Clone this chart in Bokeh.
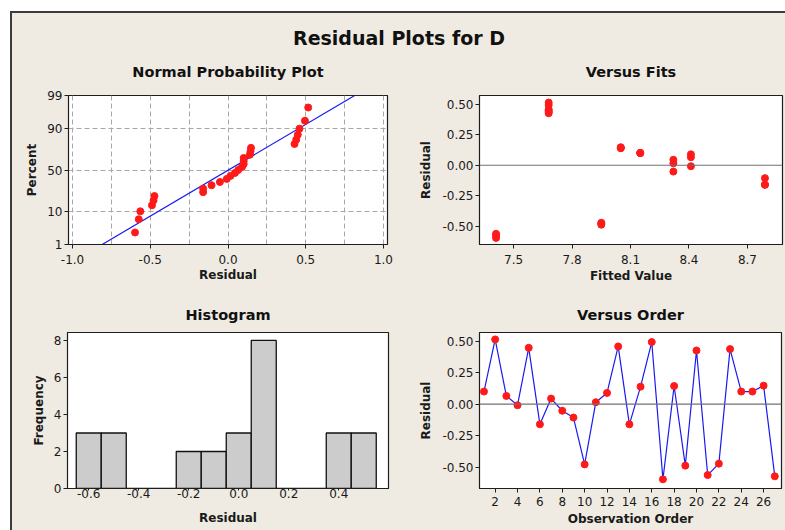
from statistics import NormalDist
import numpy as np
from bokeh.plotting import figure
from bokeh.layouts import column, row
from bokeh.models import Range1d, FixedTicker, Span, NumeralTickFormatter, LinearAxis
from bokeh.core.properties import value
from bokeh.embed import file_html
from bokeh.resources import INLINE

# ---------------- data ----------------
main_title = "Residual Plots for D"
observation = list(range(1, 28))
residuals = [0.101, 0.516, 0.066, -0.008, 0.449, -0.160, 0.045, -0.052, -0.106, -0.479,
             0.016, 0.090, 0.460, -0.160, 0.140, 0.495, -0.598, 0.145, -0.489, 0.428,
             -0.564, -0.473, 0.439, 0.101, 0.101, 0.148, -0.574]
fitted = [8.15, 7.68, 8.41, 8.41, 7.68, 8.79, 8.32, 8.32, 8.79, 7.95,
          8.32, 8.41, 7.68, 8.79, 8.05, 7.68, 7.41, 8.05, 7.95, 7.68,
          7.41, 7.95, 7.68, 8.15, 8.15, 8.05, 7.41]
prob_percent_ticks = [1, 10, 50, 90, 99]
prob_x_ticks = [-1.0, -0.5, 0.0, 0.5, 1.0]
prob_x_minor = [-0.75, -0.25, 0.25, 0.75]
resid_ticks = [-0.5, -0.25, 0.0, 0.25, 0.5]
fit_ticks = [7.5, 7.8, 8.1, 8.4, 8.7]
hist_x_ticks = [-0.6, -0.4, -0.2, 0.0, 0.2, 0.4]
hist_y_ticks = [0, 2, 4, 6, 8]
order_ticks = list(range(2, 27, 2))
bin_edges = [-0.65, -0.55, -0.45, -0.35, -0.25, -0.15, -0.05, 0.05, 0.15, 0.25, 0.35, 0.45, 0.55]

# ---------------- style ----------------
BEIGE = "#EFEBE2"
FONT = "DejaVu Sans"
RED = "#FF1A1A"
BLUE = "#1A1AF0"
DARK = "#1E1E1E"

nd = NormalDist()


def style(p):
    p.border_fill_color = BEIGE
    p.background_fill_color = "white"
    p.outline_line_color = DARK
    p.outline_line_width = 1.2
    p.grid.grid_line_color = None
    for ax in p.axis:
        ax.axis_line_color = DARK
        ax.major_tick_in = 0
        ax.major_tick_out = 4
        ax.major_tick_line_color = DARK
        ax.minor_tick_line_color = None
        ax.major_label_text_font = FONT
        ax.major_label_text_font_size = "12px"
        ax.major_label_text_color = "#1A1A1A"
        ax.axis_label_text_font = FONT
        ax.axis_label_text_font_size = "12px"
        ax.axis_label_text_font_style = "bold"
        ax.axis_label_text_color = "#1A1A1A"
        ax.major_label_standoff = 2


def add_title(p, text, gap):
    ax = LinearAxis(ticker=FixedTicker(ticks=[]), axis_label=text)
    ax.axis_line_color = None
    ax.major_tick_line_color = None
    ax.minor_tick_line_color = None
    ax.major_tick_in = 0
    ax.major_tick_out = 0
    ax.major_label_standoff = 0
    ax.axis_label_standoff = gap
    ax.axis_label_text_font = FONT
    ax.axis_label_text_font_size = "14.5px"
    ax.axis_label_text_font_style = "bold"
    ax.axis_label_text_color = "#111111"
    p.add_layout(ax, "above")


def fig(w, h, xr, yr, left, right, top, bottom):
    return figure(width=w, height=h, x_range=xr, y_range=yr, output_backend="svg",
                  toolbar_location=None, min_border_left=left, min_border_right=right,
                  min_border_top=top, min_border_bottom=bottom)


# ---------------- title ----------------
pt = figure(width=773, height=39, x_range=Range1d(0, 1), y_range=Range1d(0, 1),
            output_backend="svg", toolbar_location=None, x_axis_type=None, y_axis_type=None,
            min_border=0)
pt.text(x=[0.5], y=[0.38], text=[main_title], text_align="center", text_baseline="middle",
        text_font=value(FONT), text_font_style="bold", text_font_size="19px", text_color="#111111")
pt.outline_line_color = None
pt.background_fill_color = BEIGE
pt.border_fill_color = BEIGE
pt.grid.grid_line_color = None

# ---------------- normal probability plot ----------------
n = len(residuals)
sorted_res = sorted(residuals)
z_pts = [nd.inv_cdf((i - 0.3) / (n + 0.4)) for i in range(1, n + 1)]
mu = float(np.mean(residuals))
sd = float(np.std(residuals, ddof=1))
z_lo = round(nd.inv_cdf(prob_percent_ticks[0] / 100), 6)
z_hi = round(nd.inv_cdf(prob_percent_ticks[-1] / 100), 6)
z_ticks = [round(nd.inv_cdf(v / 100), 6) for v in prob_percent_ticks]

p1 = fig(388, 240, Range1d(-1.026, 1.026), Range1d(z_lo, z_hi), 56, 13, 43, 48)
style(p1)
xt1 = FixedTicker(ticks=prob_x_ticks, minor_ticks=prob_x_minor)
yt1 = FixedTicker(ticks=z_ticks)
p1.below[0].ticker = xt1
p1.below[0].formatter = NumeralTickFormatter(format="0.0")
p1.left[0].ticker = yt1
p1.left[0].major_label_overrides = {z: str(v) for z, v in zip(z_ticks, prob_percent_ticks)}
p1.xgrid.ticker = xt1
p1.ygrid.ticker = yt1
p1.xgrid.grid_line_color = "#A8A8A8"
p1.xgrid.grid_line_dash = "5 3"
p1.xgrid.minor_grid_line_color = "#A8A8A8"
p1.xgrid.minor_grid_line_dash = "5 3"
p1.ygrid.grid_line_color = "#A8A8A8"
p1.ygrid.grid_line_dash = "5 3"
p1.below[0].axis_label = "Residual"
p1.left[0].axis_label = "Percent"
p1.below[0].major_label_standoff = 6
p1.below[0].axis_label_standoff = 1
p1.left[0].axis_label_standoff = 5
add_title(p1, "Normal Probability Plot", 16)
p1.line([mu + sd * z_lo, mu + sd * z_hi], [z_lo, z_hi], line_color=BLUE, line_width=1.2)
p1.scatter(sorted_res, z_pts, size=7, fill_color=RED, line_color=RED)

# ---------------- versus fits ----------------
p2 = fig(385, 240, Range1d(7.325, 8.88), Range1d(-0.652, 0.574), 79, 3, 42, 48)
style(p2)
p2.below[0].ticker = FixedTicker(ticks=fit_ticks)
p2.below[0].formatter = NumeralTickFormatter(format="0.0")
p2.left[0].ticker = FixedTicker(ticks=resid_ticks)
p2.left[0].formatter = NumeralTickFormatter(format="0.00")
p2.below[0].axis_label = "Fitted Value"
p2.left[0].axis_label = "Residual"
p2.below[0].major_label_standoff = 6
p2.below[0].axis_label_standoff = 2
p2.left[0].axis_label_standoff = 6
add_title(p2, "Versus Fits", 16)
p2.add_layout(Span(location=0, dimension="width", line_color="#707070", line_width=1.2))
p2.scatter(fitted, residuals, size=7, fill_color=RED, line_color=RED)

# ---------------- histogram ----------------
counts, edges = np.histogram(residuals, bins=np.array(bin_edges))
p3 = fig(388, 238, Range1d(-0.685, 0.599), Range1d(0, 8.43), 55, 12, 40, 42)
style(p3)
p3.below[0].ticker = FixedTicker(ticks=hist_x_ticks)
p3.below[0].formatter = NumeralTickFormatter(format="0.0")
p3.left[0].ticker = FixedTicker(ticks=hist_y_ticks)
p3.below[0].axis_label = "Residual"
p3.left[0].axis_label = "Frequency"
p3.below[0].major_tick_out = 2
p3.below[0].major_label_standoff = -2
p3.below[0].axis_label_standoff = 10
p3.left[0].axis_label_standoff = 5
add_title(p3, "Histogram", 10)
p3.quad(left=edges[:-1], right=edges[1:], bottom=0, top=counts,
        fill_color="#C6C6C6", fill_alpha=0.9, line_color="#111111", line_width=1.3)

# ---------------- versus order ----------------
p4 = fig(385, 238, Range1d(0.6, 27.6), Range1d(-0.671, 0.571), 79, 4, 40, 42)
style(p4)
p4.below[0].ticker = FixedTicker(ticks=order_ticks)
p4.left[0].ticker = FixedTicker(ticks=resid_ticks)
p4.left[0].formatter = NumeralTickFormatter(format="0.00")
p4.below[0].axis_label = "Observation Order"
p4.left[0].axis_label = "Residual"
p4.below[0].major_label_standoff = 4
p4.below[0].axis_label_standoff = 3
p4.left[0].axis_label_standoff = 6
add_title(p4, "Versus Order", 10)
p4.add_layout(Span(location=0, dimension="width", line_color="#707070", line_width=1.2))
p4.line(observation, residuals, line_color=BLUE, line_width=1.2)
p4.scatter(observation, residuals, size=7, fill_color=RED, line_color=RED)

layout = column(pt, row(p1, p2), row(p3, p4),
                styles={"border-left": "2px solid #3C3C3C", "border-top": "2px solid #3C3C3C",
                        "margin-left": "10px", "margin-top": "11px",
                        "background-color": BEIGE})

open("out.html", "w").write(file_html(layout, INLINE))
